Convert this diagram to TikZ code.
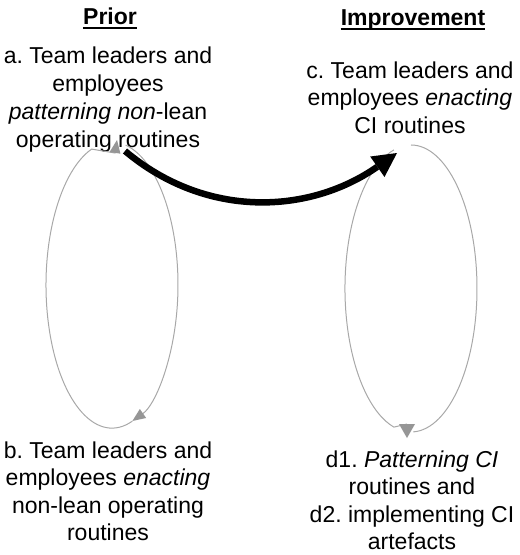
\documentclass[tikz,border=0pt]{standalone}
\usepackage{fontspec}
\setmainfont{Liberation Sans}
\usetikzlibrary{arrows.meta}
\definecolor{loopgray}{RGB}{168,168,168}
\definecolor{tipgray}{RGB}{150,150,150}
\newcommand\txtblock[1]{\begin{tabular}[t]{@{}c@{}}#1\end{tabular}}
\frenchspacing
\begin{document}
\begin{tikzpicture}[x=1pt,y=-1pt,
  lbl/.style={anchor=base, inner sep=0pt, font=\fontsize{23}{27.5}\selectfont},
  lbla/.style={lbl, font=\fontsize{23}{28.3}\selectfont},
  head/.style={anchor=base, inner sep=0pt, font=\fontsize{23}{27.5}\selectfont\bfseries},
  uline/.style={line width=2pt},
  loopline/.style={draw=loopgray, line width=1pt,
    -{Triangle[length=13pt,width=11pt,line width=0pt,color=tipgray,fill=tipgray]}},
  widetip/.style={draw=loopgray, line width=1pt,
    -{Triangle[length=14pt,width=16pt,line width=0pt,color=tipgray,fill=tipgray]}},
  plainloop/.style={draw=loopgray, line width=1pt},
  bigarrow/.style={draw=black, line width=6.5pt,
    -{Triangle[length=24pt,width=25pt,line width=0pt]}}
]
\useasboundingbox (0,0) rectangle (520,555);

% headings
\node[head] (prior) at (110,24) {Prior};
\node[head] (impr) at (413,25) {Improvement};
\draw[uline] ([yshift=-4pt]prior.base west) -- ([yshift=-4pt]prior.base east);
\draw[uline] ([yshift=-4pt]impr.base west) -- ([yshift=-4pt]impr.base east);

% texts
\node[lbla] (a) at (108,63) {\txtblock{a. Team leaders and\\ employees\\ \textit{patterning non}-lean\\ operating routines}};
\node[lbl] (c) at (410,78) {\txtblock{c. Team leaders and\\ employees \textit{enacting}\\ CI routines}};
\node[lbl] (b) at (108,458) {\txtblock{b. Team leaders and\\ employees \textit{enacting}\\ non-lean operating\\ routines}};
\node[lbl] (d) at (412,467) {\txtblock{d1. \textit{Patterning CI}\\ routines and\\ d2. implementing CI\\ artefacts}};

% left loop (ellipse centre (112,285), radii 66 x 143)
\coordinate (aStart) at (125.7,145.1);
\coordinate (bTip) at (132.4,421.1);
\coordinate (aTopBase) at (115,153);
\coordinate (aTop) at (117,140);
\draw[loopline] (aStart) arc[start angle=-78, end angle=72, x radius=66, y radius=143];
\draw[loopline] (bTip) arc[start angle=72, end angle=252, x radius=66, y radius=143]
  -- (aTopBase) -- (aTop);

% right loop (ellipse centre (411,288.5), radii 66 x 143.5)
\coordinate (cStart) at (393.9,149.9);
\coordinate (dBase) at (407,424);
\coordinate (dTip) at (407,438);
\coordinate (dStart) at (413.3,431.9);
\draw[widetip] (cStart) arc[start angle=255, end angle=105, x radius=66, y radius=143.5]
  -- (dBase) -- (dTip);
\draw[plainloop] (dStart) arc[start angle=88, end angle=-90, x radius=66, y radius=143.5];

% big transition arrow
\coordinate (bigStart) at (125,151);
\coordinate (bigEnd) at (397,153);
\draw[bigarrow] (bigStart) to[out=-40,in=-145] (bigEnd);
\end{tikzpicture}
\end{document}
